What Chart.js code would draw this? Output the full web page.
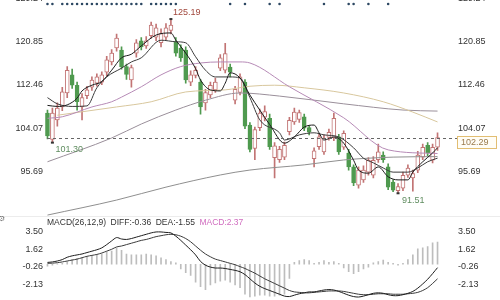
<!DOCTYPE html>
<html>
<head>
<meta charset="utf-8">
<title>K线 · MACD</title>
<script src="https://cdn.jsdelivr.net/npm/chart.js@4.4.1/dist/chart.umd.min.js"></script>
<style>
  html, body { margin: 0; padding: 0; background: #fff; }
  body { width: 500px; height: 300px; position: relative; overflow: hidden; }
  canvas { position: absolute; left: 0; }
  #price { top: -8px; }
  #macd { top: 216px; }
</style>
</head>
<body>
<canvas id="price" width="500" height="230"></canvas>
<canvas id="macd" width="500" height="90"></canvas>
<script>
// ---- daily candles ----
const opens = [107.0,101.9,105.7,108.2,110.9,114.4,112.4,108.2,110.4,112.0,
  112.8,113.0,114.9,116.9,119.6,119.2,116.0,113.4,118.6,121.0,
  120.0,122.0,121.7,120.6,121.7,123.0,120.7,119.6,119.2,113.0,
  114.3,113.0,109.0,110.5,111.5,115.7,115.3,115.9,109.5,111.0,
  113.0,104.7,100.2,104.2,106.2,106.0,98.4,98.0,98.5,103.4,
  105.3,105.8,106.3,104.2,98.2,100.5,99.5,102.3,102.2,102.4,
  100.4,99.3,96.6,93.1,94.1,95.6,95.0,98.0,98.9,96.6,
  93.7,92.0,92.5,95.0,94.5,96.0,98.5,100.8,97.9,100.4];
const highs = [107.6,108.0,109.0,112.0,116.0,115.5,113.0,110.8,112.2,114.0,
  114.6,115.0,118.0,119.3,122.3,119.8,116.5,116.3,121.2,121.6,
  121.8,124.6,124.2,123.3,124.3,125.19,121.6,120.2,119.8,115.2,
  116.0,113.5,111.6,113.0,113.8,118.3,120.5,116.5,112.2,114.6,
  113.5,105.2,104.3,107.8,108.4,106.8,101.3,100.6,101.4,106.2,
  108.0,107.6,106.8,104.6,100.3,103.0,102.8,103.9,107.0,102.9,
  103.6,100.0,97.0,96.6,96.8,98.4,98.6,101.0,99.5,97.2,
  94.1,93.4,95.6,97.0,96.0,99.6,101.0,101.3,101.0,103.2];
const lows = [102.0,101.30,104.5,107.5,110.0,111.8,107.6,105.7,109.8,111.4,
  112.2,112.5,114.2,116.3,119.0,115.5,113.5,112.0,117.8,119.2,
  119.5,121.5,121.0,119.8,121.2,122.3,118.0,117.0,112.8,112.3,
  113.8,106.8,107.6,110.0,111.0,115.2,114.8,114.0,108.8,110.5,
  104.0,99.5,98.0,103.6,105.5,100.0,94.5,97.5,98.0,102.8,
  104.8,105.2,103.6,102.8,96.6,100.0,99.0,101.8,101.7,99.0,
  100.0,96.0,93.0,92.5,93.6,95.0,94.5,97.5,97.5,92.2,
  91.8,91.51,92.0,94.6,91.9,95.5,98.0,98.8,97.4,99.8];
const closes = [102.6,107.0,108.0,111.1,115.3,112.4,109.2,110.0,111.5,113.4,
  114.0,114.4,117.3,118.6,121.5,116.0,114.5,115.8,120.6,119.8,
  121.0,124.0,123.5,122.4,123.5,124.0,118.6,117.7,113.4,114.4,
  115.3,108.2,111.0,112.4,113.0,117.7,118.5,114.9,111.6,114.0,
  104.5,100.0,103.8,107.0,107.3,100.5,100.7,100.0,100.8,105.6,
  107.2,107.1,104.1,103.3,99.7,102.4,102.2,103.3,106.0,99.5,
  103.1,96.6,93.5,96.0,96.0,97.9,97.9,99.5,98.0,92.7,
  92.1,92.8,95.0,96.4,95.3,98.9,100.4,99.3,100.4,102.29];
const days = opens.map((_, i) => String(i + 1));

// ---- moving averages, read as [day index, price] ----
const ma5Pts = [[0,108.5],[2,108.3],[4,108.6],[6,109.9],[7,111.3],[9,112.4],[11,113.1],[13,115.3],[15,117.7],[17,118.4],
  [19,120.0],[22,122.1],[25,122.5],[26,121.1],[28,118.6],[30,115.6],[31,113.4],[33,111.5],[35,111.3],[36,112.8],
  [37,114.8],[39,113.8],[41,110.5],[43,107.6],[45,104.8],[48,101.2],[50,102.4],[52,104.3],[54,104.7],[55,103.2],
  [56,101.8],[58,102.4],[60,101.2],[62,97.9],[63,96.0],[65,95.4],[67,96.6],[69,94.7],[71,94.1],[73,94.1],
  [74,95.6],[76,97.6],[78,99.3],[79,100.3]];
const ma10Pts = [[0,110.0],[2,108.8],[5,108.3],[8,108.4],[10,111.9],[12,114.0],[15,115.7],[17,116.9],[19,117.7],[23,121.1],
  [26,120.8],[28,120.6],[30,117.9],[32,115.3],[34,114.0],[37,114.0],[39,113.8],[41,110.0],[43,105.7],[47,103.2],
  [48,101.8],[51,102.8],[54,103.2],[56,102.8],[59,102.4],[62,100.3],[64,98.3],[66,97.4],[68,96.4],[70,95.6],
  [73,95.6],[75,96.4],[77,97.6],[79,98.3]];
const ma20Pts = [[0,106.0],[3,106.3],[9,108.2],[13,109.2],[15,110.1],[19,112.1],[23,114.4],[27,116.0],[31,116.7],[35,116.9],
  [39,116.9],[41,116.7],[49,112.1],[60,106.1],[69,99.9],[79,99.2]];
const ma60Pts = [[2,106.6],[14,108.2],[21,109.2],[28,111.1],[36,111.5],[41,112.2],[46,112.4],[52,111.9],[60,110.9],[68,109.2],
  [74,107.2],[79,105.3]];
const ma120Pts = [[0,97.6],[13,102.2],[19,104.9],[26,107.6],[32,109.5],[39,110.9],[47,110.3],[60,108.8],[72,107.6],[79,107.4]];
const ma250Pts = [[0,87.3],[14,90.2],[24,92.7],[35,95.05],[41,96.0],[52,97.0],[60,97.95],[70,98.5],[79,98.6]];

// ---- signal days marked along the top ----
const signalDays = [0,1,3,4,5,6,7,8,9,10,11,12,13,14,15,16,17,18,19,21,22,23,24,25,26,37,40,45,47,56,61,62,65,69];

// ---- MACD(26,12,9) ----
const diffVals = [0.20,0.25,0.35,0.50,0.75,0.90,1.00,1.10,1.25,1.40,
  1.55,1.75,2.10,2.50,2.85,2.70,2.65,2.75,2.90,3.05,
  3.20,3.35,3.45,3.45,3.40,3.35,3.00,2.55,2.05,1.55,
  1.00,0.30,-0.10,-0.30,-0.40,-0.40,-0.45,-0.55,-0.65,-0.80,
  -1.10,-1.55,-2.00,-2.35,-2.60,-2.80,-3.00,-3.20,-3.40,-3.45,
  -3.30,-3.15,-3.05,-2.95,-2.95,-2.85,-2.75,-2.70,-2.75,-2.90,
  -3.10,-3.30,-3.45,-3.50,-3.40,-3.25,-3.10,-3.05,-3.10,-3.25,
  -3.35,-3.35,-3.25,-3.10,-2.90,-2.55,-2.10,-1.60,-1.00,-0.36];
const deaVals = [0.10,0.12,0.17,0.25,0.35,0.45,0.55,0.70,0.85,0.95,
  1.05,1.20,1.40,1.60,1.85,1.95,2.10,2.25,2.40,2.55,
  2.65,2.80,2.95,3.05,3.15,3.20,3.15,3.00,2.75,2.40,
  1.95,1.50,1.10,0.80,0.55,0.40,0.25,0.10,-0.05,-0.25,
  -0.45,-0.70,-0.95,-1.25,-1.55,-1.80,-2.05,-2.30,-2.55,-2.80,
  -2.95,-3.00,-3.05,-3.05,-3.00,-2.95,-2.90,-2.85,-2.85,-2.85,
  -2.90,-3.00,-3.10,-3.20,-3.25,-3.25,-3.20,-3.15,-3.15,-3.15,
  -3.20,-3.20,-3.20,-3.15,-3.10,-3.00,-2.80,-2.50,-2.05,-1.55];
const histVals = [-0.2,-0.1,0.05,0.1,0.3,0.5,0.6,0.7,0.8,0.9,
  1.0,1.1,1.3,1.4,1.74,1.5,1.1,1.0,1.0,1.0,
  1.1,1.0,0.9,0.7,0.5,0.3,0.15,-0.5,-0.9,-1.2,
  -1.9,-2.4,-2.7,-2.2,-2.0,-1.8,-1.7,-1.9,-2.2,-2.5,
  -3.2,-3.5,-3.4,-3.3,-3.3,-3.4,-3.4,-3.3,-3.2,-1.5,
  0.2,0.4,0.5,0.4,0.1,0.2,0.4,0.2,0.3,0.1,
  -0.4,-0.8,-1.0,-0.8,-0.5,-0.3,0.15,0.3,0.45,0.2,
  0.1,-0.1,0.1,0.5,1.0,1.65,1.75,1.9,2.3,2.37];

// ---- axis ticks ----
const priceTicks = [95.69, 104.07, 112.46, 120.85, 129.24];
const macdTicks = [-2.13, -0.26, 1.62, 3.50];

const FONT = '"Liberation Sans", Arial, sans-serif';
const UP_LINE = '#c27474';
const DOWN_FILL = '#4f9a4f';

const isUp = i => closes[i] >= opens[i];
const toPoints = pts => pts.map(([i, v]) => ({ x: days[i], y: v }));

// value axis on either side; labels are pushed off the plot with an invisible tick mark
function sideAxis(position, ticks) {
  return {
    type: 'linear', position,
    grid: { display: true, drawOnChartArea: false, drawTicks: true,
            tickLength: position === 'left' ? 2 : 18, color: 'rgba(0,0,0,0)' },
    border: { display: false },
    afterBuildTicks: s => { s.ticks = ticks.map(v => ({ value: v })); },
    afterFit: s => { s.width = position === 'left' ? 45 : 60; },
    ticks: {
      autoSkip: false, padding: 0, color: '#333',
      font: { size: 9, family: FONT },
      callback: v => Number(v).toFixed(2)
    }
  };
}

// give both value axes the range that puts each level at its screen height
function alignRange(chart, canvasTop, valueAt) {
  for (const id of ['y', 'y2']) {
    const s = chart.scales[id];
    chart.options.scales[id].min = valueAt(canvasTop + s.bottom);
    chart.options.scales[id].max = valueAt(canvasTop + s.top);
  }
  chart.update('none');
}

function maLine(pts, color, order) {
  return {
    type: 'line', data: toPoints(pts), borderColor: color, borderWidth: 1,
    pointRadius: 0, cubicInterpolationMode: 'monotone', spanGaps: true, order
  };
}

// overlays on the price panel: signal dots, last-price line and tag, extreme labels
const priceDecor = {
  id: 'priceDecor',
  afterDatasetsDraw(chart) {
    const { ctx, chartArea: a, scales: { x, y } } = chart;
    ctx.save();

    // panel separator
    ctx.fillStyle = '#ececec';
    ctx.fillRect(0, 224, 500, 1);

    // signal dots
    ctx.fillStyle = '#2c4762';
    const dotY = y.getPixelForValue(128.1);
    signalDays.forEach(i => {
      ctx.beginPath();
      ctx.arc(x.getPixelForValue(i), dotY, 1.3, 0, Math.PI * 2);
      ctx.fill();
    });

    // last close: dashed line and tag on the right
    const last = closes.length - 1;
    const ly = Math.round(y.getPixelForValue(closes[last])) + 0.5;
    ctx.strokeStyle = '#666';
    ctx.lineWidth = 1;
    ctx.setLineDash([3, 3]);
    ctx.beginPath();
    ctx.moveTo(a.left + 2, ly);
    ctx.lineTo(a.right + 17, ly);
    ctx.stroke();
    ctx.setLineDash([]);
    ctx.fillStyle = '#fffdf6';
    ctx.strokeStyle = '#e2be72';
    ctx.fillRect(a.right + 17.5, ly - 2, 39, 12);
    ctx.strokeRect(a.right + 17.5, ly - 2, 39, 12);
    ctx.fillStyle = '#9a7a4c';
    ctx.font = '9px ' + FONT;
    ctx.textAlign = 'left';
    ctx.textBaseline = 'middle';
    ctx.fillText(closes[last].toFixed(2), a.right + 21, ly + 4.5);

    // extreme labels
    const hi = highs.indexOf(Math.max(...highs));
    const lo = lows.indexOf(Math.min(...lows));
    const marks = [
      { i: hi, v: highs[hi], dx: 2, dy: -7, color: '#a1473c' },
      { i: 1, v: lows[1], dx: 3, dy: 7, color: '#5f8c5f' },
      { i: lo, v: lows[lo], dx: 4, dy: 7, color: '#5f8c5f' }
    ];
    marks.forEach(m => {
      const px = x.getPixelForValue(m.i), py = y.getPixelForValue(m.v);
      ctx.fillStyle = '#333';
      ctx.fillRect(px - 1.5, py - 1, 3, 2);
      ctx.fillStyle = m.color;
      ctx.font = '9px ' + FONT;
      ctx.fillText(m.v.toFixed(2), px + m.dx, py + m.dy);
    });
    ctx.restore();
  }
};

const priceChart = new Chart(document.getElementById('price'), {
  type: 'bar',
  data: {
    labels: days,
    datasets: [
      maLine(ma5Pts, '#1b1b1b', 1),
      maLine(ma10Pts, '#3c3c3c', 1),
      maLine(ma20Pts, '#b68ab6', 2),
      maLine(ma60Pts, '#d8c79d', 2),
      maLine(ma120Pts, '#9a8f9a', 2),
      maLine(ma250Pts, '#8f8f8f', 2),
      {
        type: 'bar', grouped: false, order: 4, barThickness: 4,
        data: opens.map((o, i) => [o, closes[i]]),
        backgroundColor: opens.map((_, i) => isUp(i) ? '#ffffff' : DOWN_FILL),
        borderColor: opens.map((_, i) => isUp(i) ? UP_LINE : DOWN_FILL),
        borderWidth: 1, borderSkipped: false
      },
      {
        type: 'bar', grouped: false, order: 5, barThickness: 1,
        data: lows.map((l, i) => [l, highs[i]]),
        backgroundColor: opens.map((_, i) => isUp(i) ? UP_LINE : DOWN_FILL)
      }
    ]
  },
  options: {
    responsive: false, animation: false,
    layout: { padding: 0 },
    plugins: { legend: { display: false }, tooltip: { enabled: false } },
    scales: {
      x: { type: 'category', display: false, offset: true },
      y: sideAxis('left', priceTicks),
      y2: sideAxis('right', priceTicks)
    }
  },
  plugins: [priceDecor]
});
// price axis: 120.85 sits 41.5px from the top, 0.1933 per pixel
alignRange(priceChart, -8, py => 120.85 - (py - 41.5) * 0.1933);

// header of the MACD panel
const macdDecor = {
  id: 'macdDecor',
  afterDraw(chart) {
    const { ctx } = chart;
    const n = diffVals.length - 1;
    ctx.save();
    ctx.textBaseline = 'middle';
    ctx.textAlign = 'left';
    ctx.font = '8px "DejaVu Sans", sans-serif';
    ctx.fillStyle = '#777';
    ctx.fillText('⚙', -2, 3);
    ctx.font = '8.5px ' + FONT;
    const parts = [
      ['MACD(26,12,9)', '#333'],
      ['DIFF:' + diffVals[n].toFixed(2), '#333'],
      ['DEA:' + deaVals[n].toFixed(2), '#333'],
      ['MACD:' + histVals[n].toFixed(2), '#d06cbf']
    ];
    let tx = 47;
    parts.forEach(([t, c]) => {
      ctx.fillStyle = c;
      ctx.fillText(t, tx, 7);
      tx += ctx.measureText(t).width + 4.5;
    });
    ctx.restore();
  }
};

const macdChart = new Chart(document.getElementById('macd'), {
  type: 'bar',
  data: {
    labels: days,
    datasets: [
      { type: 'line', data: diffVals, borderColor: '#1e1e1e', borderWidth: 1, pointRadius: 0, tension: 0.3, order: 1 },
      { type: 'line', data: deaVals, borderColor: '#3a3a3a', borderWidth: 1, pointRadius: 0, tension: 0.3, order: 1 },
      { type: 'bar', data: histVals, backgroundColor: '#bdbdbd', barThickness: 1, order: 2 }
    ]
  },
  options: {
    responsive: false, animation: false,
    layout: { padding: 0 },
    plugins: { legend: { display: false }, tooltip: { enabled: false } },
    scales: {
      x: { type: 'category', display: false, offset: true },
      y: sideAxis('left', macdTicks),
      y2: sideAxis('right', macdTicks)
    }
  },
  plugins: [macdDecor]
});
// MACD axis: 3.50 sits at 231.5px, 0.1068 per pixel
alignRange(macdChart, 216, py => 3.50 - (py - 231.5) * 0.1068);
</script>
</body>
</html>
